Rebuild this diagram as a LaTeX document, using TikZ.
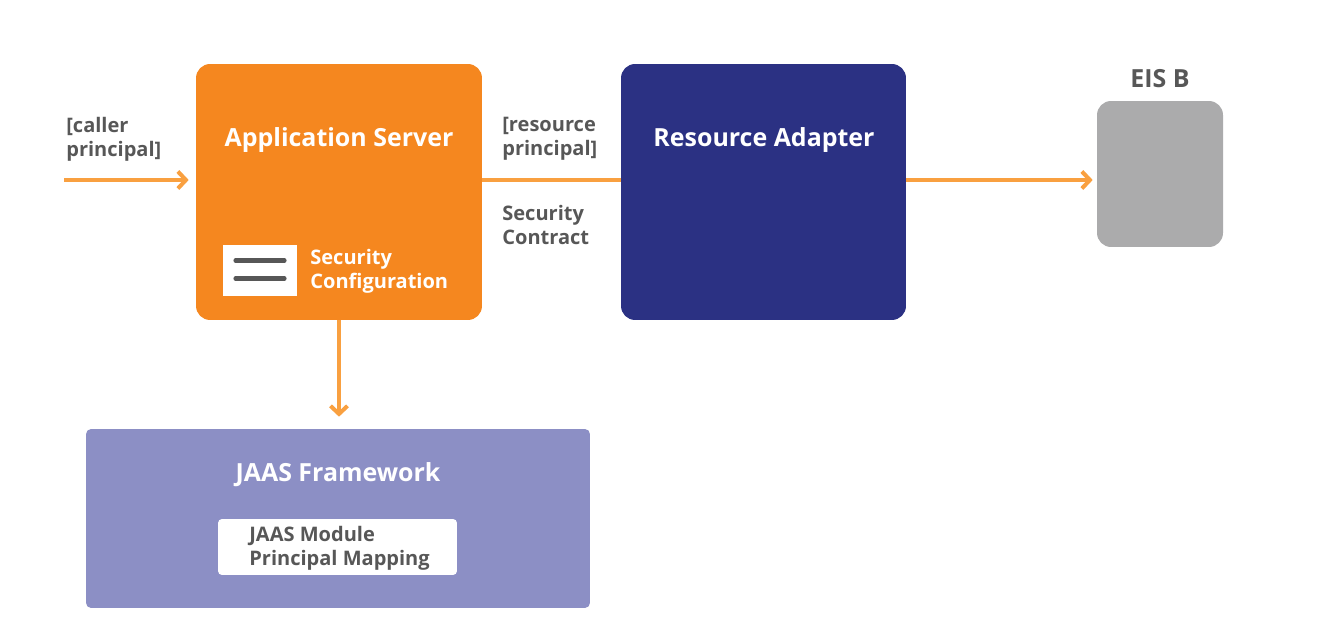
\documentclass[tikz,border=0pt]{standalone}
\usepackage{fontspec}
\setmainfont{Open Sans}
\usetikzlibrary{positioning,calc,arrows.meta}
\definecolor{asorange}{HTML}{F5871F}
\definecolor{ranavy}{HTML}{2B3183}
\definecolor{eisgray}{HTML}{ABABAC}
\definecolor{jaaspurple}{HTML}{8C8FC5}
\definecolor{flowcol}{HTML}{F9A040}
\definecolor{txtgray}{HTML}{575757}
\tikzset{
  block/.style={rounded corners=0.28cm, inner sep=0pt},
  title/.style={text=white, font=\fontsize{14.2}{17}\selectfont\bfseries, inner sep=0pt},
  label/.style={text=txtgray, font=\fontsize{11.4}{13.6}\selectfont\bfseries, align=left, anchor=west, inner sep=0pt},
  flow/.style={draw=flowcol, line width=2.3pt},
  tip/.style={-{Straight Barb[length=1.6mm,width=3.4mm]}},
}
\begin{document}
\begin{tikzpicture}[x=0.02cm,y=-0.02cm]
\useasboundingbox (0,0) rectangle (1319,634);

% boxes
\node[block, fill=asorange, minimum width=5.72cm, minimum height=5.12cm] (as) at (339,192) {};
\node[block, fill=ranavy, minimum width=5.7cm, minimum height=5.12cm] (ra) at (763.5,192) {};
\node[block, fill=eisgray, minimum width=2.52cm, minimum height=2.92cm] (eis) at (1160,174) {};
\node[block, rounded corners=0.1cm, fill=jaaspurple, minimum width=10.08cm, minimum height=3.58cm] (jaas) at (338,518.5) {};

% titles
\node[title] (astitle) at (339,140) {Application Server};
\node[title] (ratitle) at (764,140) {Resource Adapter};
\node[title, text=txtgray] (eistitle) at (1160,79) {EIS B};
\node[title] (jaastitle) at (338,475) {JAAS Framework};

% security configuration icon
\node[fill=white, minimum width=1.48cm, minimum height=1.02cm, inner sep=0pt] (icon) at (260,270.5) {};
\draw[txtgray, line width=0.09cm, line cap=round] ($(icon.north west)+(13,16)$) -- ($(icon.north east)+(-13,16)$);
\draw[txtgray, line width=0.09cm, line cap=round] ($(icon.north west)+(13,34)$) -- ($(icon.north east)+(-13,34)$);
\node[label, text=white] (seccfg) at (310,271) {Security\\Configuration};

% jaas module
\node[block, rounded corners=0.08cm, fill=white, minimum width=4.78cm, minimum height=1.12cm] (module) at (337.5,547) {};
\node[label] (moduletext) at (249,548) {JAAS Module\\Principal Mapping};

% labels
\node[label] (caller) at (66,139) {[caller\\principal]};
\node[label] (respr) at (502,139) {[resource\\principal]};
\node[label] (seccon) at (502,225) {Security\\Contract};

% connectors
\coordinate (flowy) at (0,180);
\coordinate (callin) at (64,180);
\draw[flow, tip, shorten >=0.14cm] (callin) -- (callin -| as.west);
\draw[flow] (as.east |- flowy) -- (ra.west |- flowy);
\draw[flow, tip, shorten >=0.08cm] (ra.east |- flowy) -- (eis.west |- flowy);
\draw[flow, tip, shorten >=0.24cm] (as.south) -- (as.south |- jaas.north);
\end{tikzpicture}
\end{document}
